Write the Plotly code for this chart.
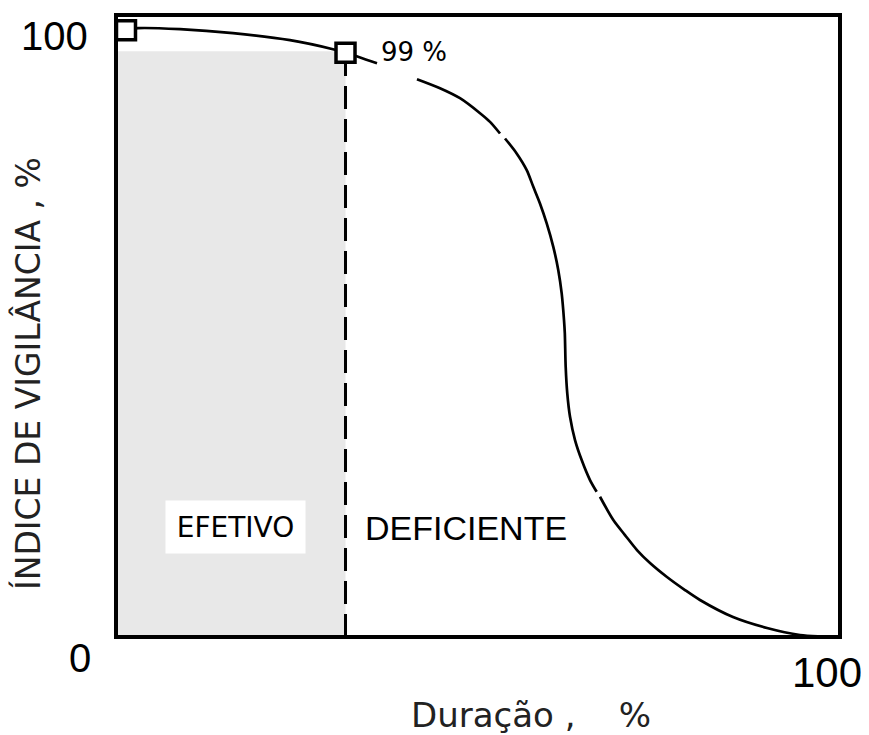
import plotly.graph_objects as go

# ---- data (x: Duração %, y: Índice de vigilância, schematic units) ----
curve_x = [1.38, 3.04, 8.84, 16.16, 24.03, 29.97, 31.70, 36.05,
           None,
           41.57, 44.75, 47.51, 50.28, 51.66, 53.04,
           None,
           53.73, 55.34, 56.73, 57.64, 58.56, 59.49, 60.40, 61.09, 61.56, 61.88,
           61.99, 62.11, 62.33, 62.71, 63.40, 64.32, 65.47, 66.39,
           None,
           66.85, 68.69, 70.30, 71.96, 73.76, 76.10, 78.59, 80.66, 85.22, 89.92,
           94.48, 97.24, 99.31]
curve_y = [99.5, 99.84, 99.67, 99.02, 97.87, 96.39, 95.82, 94.10,
           None,
           91.48, 90.00, 88.36, 85.90, 84.48, 82.57,
           None,
           81.75, 79.30, 76.56, 73.82, 71.10, 67.82, 63.98, 60.16, 56.34, 51.97,
           49.84, 44.31, 39.95, 36.11, 32.30, 29.02, 25.74, 23.82,
           None,
           23.00, 19.18, 16.72, 14.26, 12.13, 9.84, 7.70, 6.07, 3.28, 1.48,
           0.33, 0.08, 0.0]

marker_x = [1.38, 31.70]
marker_y = [99.5, 95.82]

threshold_x = 31.70      # limite efetivo / deficiente
threshold_y = 95.82      # 99 %
effective_top = 96.07

label_99 = "99 %"
label_efetivo = "EFETIVO"
label_deficiente = "DEFICIENTE"
y_ticks = ["100", "0"]
x_ticks = ["100"]
x_title = "Duração ,\u00a0\u00a0\u00a0\u00a0%"
y_title = "ÍNDICE DE VIGILÂNCIA , %"

fig = go.Figure()

# gray effective region
fig.add_shape(type="rect", x0=0, x1=threshold_x, y0=0, y1=effective_top,
              fillcolor="#e8e8e8", line=dict(width=0), layer="below")

# dashed vertical threshold
fig.add_trace(go.Scatter(x=[threshold_x, threshold_x], y=[0, threshold_y],
                         mode="lines",
                         line=dict(color="black", width=3, dash="23px,10px"),
                         hoverinfo="skip", showlegend=False))

# curve
fig.add_trace(go.Scatter(x=curve_x, y=curve_y, mode="lines",
                         line=dict(color="black", width=2.7, shape="spline",
                                   smoothing=0.8),
                         connectgaps=False, showlegend=False))

# square markers
fig.add_trace(go.Scatter(x=marker_x, y=marker_y, mode="markers",
                         marker=dict(symbol="square", size=19, color="white",
                                     line=dict(color="black", width=3.5)),
                         showlegend=False))

# frame
fig.add_shape(type="rect", xref="paper", yref="paper", x0=0, x1=1, y0=0, y1=1,
              line=dict(color="black", width=4), layer="above")

num_font = dict(family="Liberation Sans, Arial", size=40, color="black")
title_font = dict(family="DejaVu Sans, Liberation Sans", size=33, color="#222222")


def ann(**kw):
    kw.setdefault("showarrow", False)
    kw.setdefault("xanchor", "center")
    kw.setdefault("yanchor", "middle")
    fig.add_annotation(**kw)


ann(x=41.2, y=95.9, text=label_99,
    font=dict(family="DejaVu Sans, Liberation Sans", size=26, color="black"))
ann(x=16.57, y=18.0, text=label_efetivo, bgcolor="white", width=137, height=50,
    font=dict(family="DejaVu Sans, Liberation Sans", size=28, color="black"))
ann(x=48.3, y=17.9, text=label_deficiente,
    font=dict(family="Liberation Sans, Arial", size=34, color="black"))

# tick labels
ann(xref="paper", yref="paper", x=(54 - 116) / 724, y=(637 - 36) / 622,
    text=y_ticks[0], font=num_font)
ann(xref="paper", yref="paper", x=(80 - 116) / 724, y=(637 - 658) / 622,
    text=y_ticks[1], font=num_font)
ann(xref="paper", yref="paper", x=(827 - 116) / 724, y=(637 - 672) / 622,
    text=x_ticks[0], font=dict(family="Liberation Sans, Arial", size=42,
                               color="black"))

# axis titles
ann(xref="paper", yref="paper", x=(531 - 116) / 724, y=(637 - 715) / 622,
    text=x_title, font=dict(family="DejaVu Sans, Liberation Sans", size=34,
                            color="#222222"))
ann(xref="paper", yref="paper", x=(28 - 116) / 724, y=(637 - 374) / 622,
    text=y_title, textangle=-90, font=title_font)

fig.update_xaxes(range=[0, 100], showgrid=False, zeroline=False,
                 showticklabels=False, ticks="", fixedrange=True)
fig.update_yaxes(range=[0, 102], showgrid=False, zeroline=False,
                 showticklabels=False, ticks="", fixedrange=True)

fig.update_layout(width=869, height=735,
                  margin=dict(l=108, r=37, t=7, b=106),
                  plot_bgcolor="white", paper_bgcolor="white",
                  showlegend=False)

fig.write_html("out.html")
